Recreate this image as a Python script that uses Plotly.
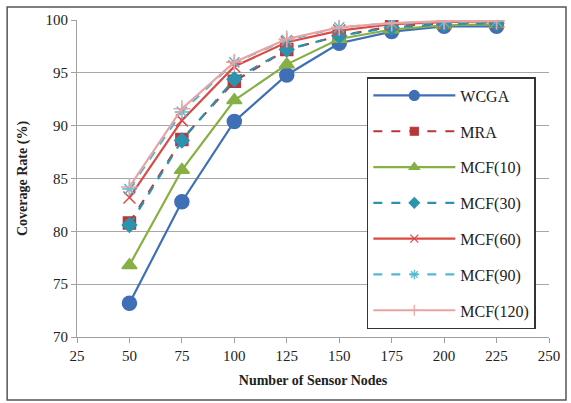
import plotly.graph_objects as go

# Number of sensor nodes deployed
nodes = [50, 75, 100, 125, 150, 175, 200, 225]

# Coverage rate (%) per method
wcga = [73.2, 82.8, 90.4, 94.8, 97.8, 98.9, 99.4, 99.4]
mra = [80.8, 88.7, 94.2, 97.2, 98.5, 99.4, 99.7, 99.8]
mcf10 = [76.8, 85.8, 92.4, 95.8, 98.2, 99.1, 99.5, 99.6]
mcf30 = [80.6, 88.6, 94.4, 97.2, 98.5, 99.3, 99.6, 99.7]
mcf60 = [83.2, 90.5, 95.6, 97.9, 99.0, 99.6, 99.8, 99.9]
mcf90 = [84.0, 91.3, 96.0, 98.1, 99.3, 99.7, 99.8, 99.9]
mcf120 = [84.2, 91.6, 96.0, 98.2, 99.3, 99.7, 99.9, 99.9]

series = [
    ("WCGA", wcga, "#3F6FB6", "solid", "circle", 14),
    ("MRA", mra, "#B8383A", "dash", "square", 12),
    ("MCF(10)", mcf10, "#86B043", "solid", "triangle-up", 13),
    ("MCF(30)", mcf30, "#2C93AE", "dash", "diamond", 11),
    ("MCF(60)", mcf60, "#DC4A44", "solid", "x-thin-open", 12),
    ("MCF(90)", mcf90, "#52B8D6", "dash", "asterisk-open", 12),
    ("MCF(120)", mcf120, "#E8A3A3", "solid", "cross-thin-open", 12),
]

fig = go.Figure()
for i, (name, vals, color, dash, symbol, size) in enumerate(series):
    # data line
    fig.add_trace(go.Scatter(
        x=nodes, y=vals, name=name, mode="lines+markers",
        legendgroup=f"g{i}", showlegend=False,
        line=dict(color=color, width=2.2, dash=dash),
        marker=dict(symbol=symbol, size=size, color=color,
                    line=dict(color=color, width=1.5)),
    ))
    # legend entry with a smaller marker
    fig.add_trace(go.Scatter(
        x=[None], y=[None], name=name, mode="lines+markers",
        legendgroup=f"g{i}", showlegend=True,
        line=dict(color=color, width=2.2, dash=dash),
        marker=dict(symbol=symbol, size=max(size - 4, 8), color=color,
                    line=dict(color=color, width=1.2)),
    ))

serif = "Liberation Serif, Times New Roman, serif"

fig.update_layout(
    width=571, height=403,
    margin=dict(l=77, r=22, t=20, b=66),
    paper_bgcolor="white", plot_bgcolor="white",
    font=dict(family=serif, color="#222222", size=15),
    showlegend=True,
    legend=dict(
        x=0.614, y=0.82, xanchor="left", yanchor="top",
        bgcolor="white", bordercolor="#333333", borderwidth=1.5,
        font=dict(family=serif, size=16, color="#222222"),
        traceorder="grouped", tracegroupgap=12,
        itemwidth=82,
    ),
    xaxis=dict(
        range=[25, 250], tickmode="array",
        tickvals=[25, 50, 75, 100, 125, 150, 175, 200, 225, 250],
        showgrid=False, zeroline=False,
        showline=True, linecolor="#A0A0A0", linewidth=1,
        ticks="outside", ticklen=5, tickcolor="#A0A0A0",
        tickfont=dict(size=15),
        title=dict(text="<b>Number of Sensor Nodes</b>",
                   font=dict(size=14), standoff=12),
    ),
    yaxis=dict(
        range=[70, 100], tickmode="array",
        tickvals=[70, 75, 80, 85, 90, 95, 100],
        showgrid=True, gridcolor="#A8A8A8", gridwidth=1,
        zeroline=False,
        showline=True, linecolor="#A0A0A0", linewidth=1,
        ticks="outside", ticklen=5, tickcolor="#A0A0A0",
        tickfont=dict(size=15),
        title=dict(text="<b>Coverage Rate (%)</b>",
                   font=dict(size=14), standoff=14),
    ),
    shapes=[dict(
        type="rect", xref="paper", yref="paper",
        x0=-0.148, x1=1.036, y0=-0.199, y1=1.041,
        line=dict(color="#555555", width=1.5), fillcolor="rgba(0,0,0,0)",
        layer="below",
    )],
)

fig.write_html("out.html")
